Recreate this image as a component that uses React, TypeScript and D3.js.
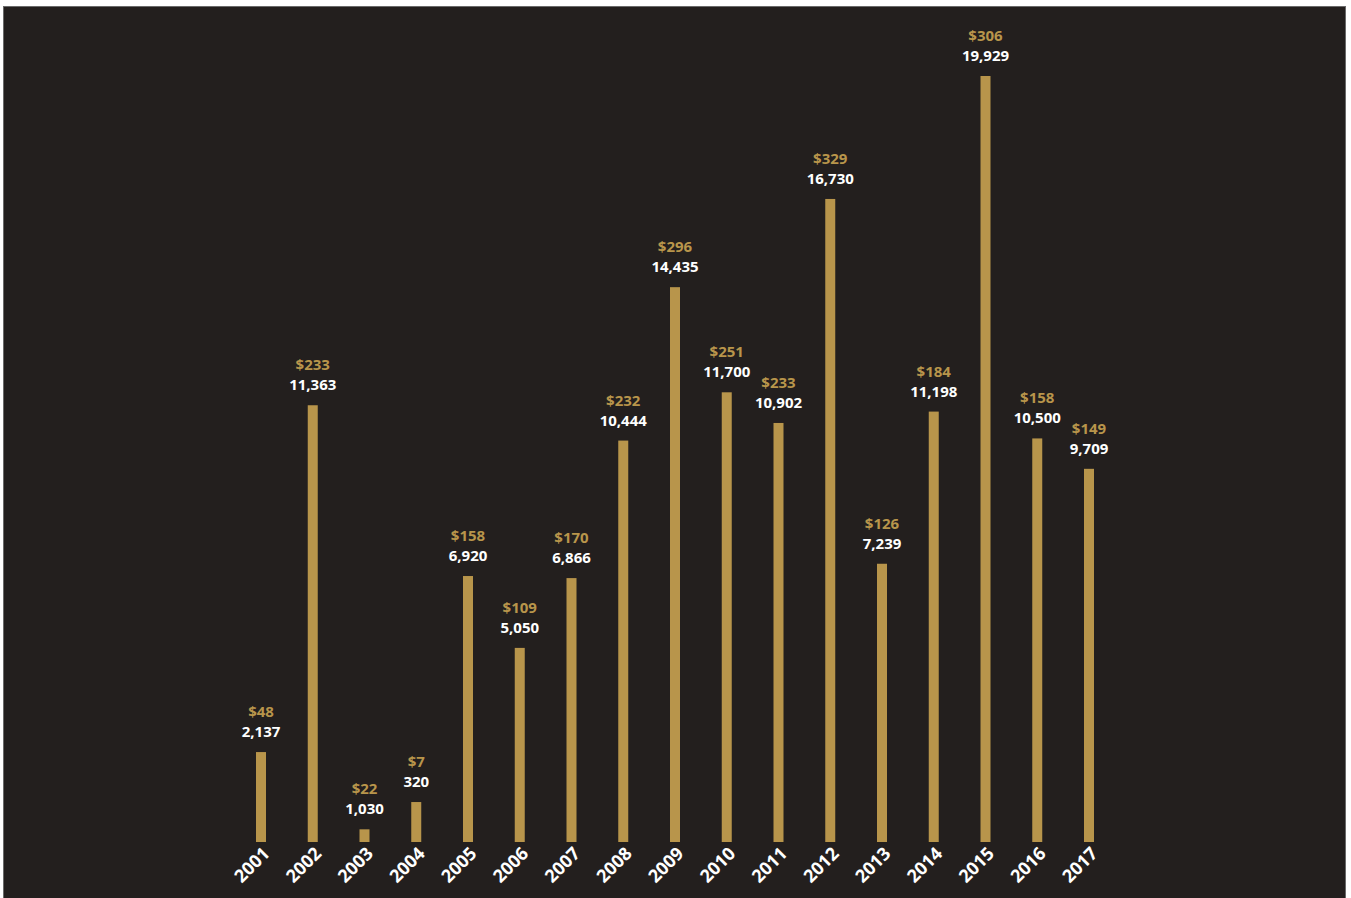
import React from "react";
import * as d3 from "d3";

const years = ["2001","2002","2003","2004","2005","2006","2007","2008","2009","2010","2011","2012","2013","2014","2015","2016","2017"];
// bar heights as drawn in the reference
const barValues = [2340, 11363, 330, 1040, 6920, 5050, 6866, 10444, 14435, 11700, 10902, 16730, 7239, 11198, 19929, 10500, 9709];
const countLabels = ["2,137","11,363","1,030","320","6,920","5,050","6,866","10,444","14,435","11,700","10,902","16,730","7,239","11,198","19,929","10,500","9,709"];
const dollarLabels = ["$48","$233","$22","$7","$158","$109","$170","$232","$296","$251","$233","$329","$126","$184","$306","$158","$149"];

const W = 1351, H = 898;
const GOLD = "#b8954b";
const BG = "#231f1e";
const FONT = "'Open Sans', sans-serif";

export default function App() {
  const x = d3.scalePoint<string>().domain(years).range([261, 1089]);
  const y = d3.scaleLinear().domain([0, 19929]).range([842, 76]);
  const bw = 10;
  return (
    <svg width={W} height={H} style={{ position: "absolute", left: 0, top: 0 }}>
      <rect x={3.5} y={6.5} width={1342} height={H} fill={BG} stroke="#6a6a6a" strokeWidth={1} />
      {years.map((yr, i) => {
        const cx = x(yr)!;
        const top = y(barValues[i]);
        return (
          <g key={yr}>
            <rect x={cx - bw / 2} y={top} width={bw} height={y(0) - top} fill={GOLD} />
            <text x={cx} y={top - 35} textAnchor="middle" fill={GOLD} fontFamily={FONT} fontWeight={700} fontSize={15}>{dollarLabels[i]}</text>
            <text x={cx} y={top - 15} textAnchor="middle" fill="#ffffff" fontFamily={FONT} fontWeight={700} fontSize={15}>{countLabels[i]}</text>
            <text transform={`translate(${cx - 1},${y(0) + 2}) rotate(-45)`} textAnchor="end" dominantBaseline="hanging" fill="#ffffff" fontFamily={FONT} fontWeight={700} fontSize={18}>{yr}</text>
          </g>
        );
      })}
    </svg>
  );
}
